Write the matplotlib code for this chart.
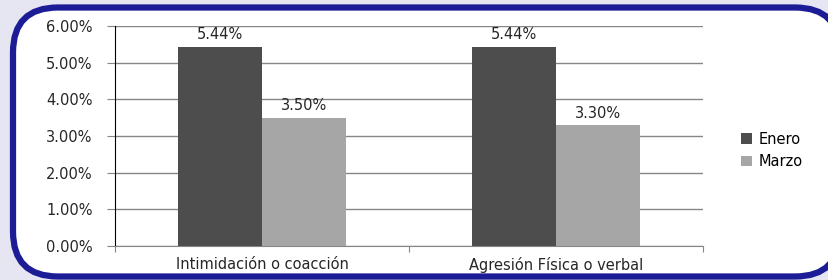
import matplotlib.pyplot as plt
import numpy as np
from matplotlib.patches import FancyBboxPatch
from matplotlib.ticker import FuncFormatter

plt.rcParams['font.family'] = 'DejaVu Sans'

categorias = ['Intimidación o coacción', 'Agresión Física o verbal']
enero = [5.44, 5.44]
marzo = [3.50, 3.30]
series = ['Enero', 'Marzo']
colores = ['#4d4d4d', '#a6a6a6']

fig = plt.figure(figsize=(8.29, 2.80), dpi=100)
fig.patch.set_facecolor('#e6e6f2')

# marco redondeado azul (en pulgadas)
marco = FancyBboxPatch((0.13, 0.035), 8.27, 2.69,
                       boxstyle='round,pad=0,rounding_size=0.45',
                       transform=fig.dpi_scale_trans, facecolor='white',
                       edgecolor='#1c1c96', linewidth=4.5, zorder=-1)
fig.patches.append(marco)

ax = fig.add_axes([115 / 829, 34 / 280, 588 / 829, 220 / 280])
ax.set_facecolor('none')

x = np.arange(len(categorias))
ancho = 0.286
b1 = ax.bar(x - ancho / 2, enero, ancho, color=colores[0], label=series[0], zorder=3)
b2 = ax.bar(x + ancho / 2, marzo, ancho, color=colores[1], label=series[1], zorder=3)

for barras, vals in [(b1, enero), (b2, marzo)]:
    for b, v in zip(barras, vals):
        ax.text(b.get_x() + b.get_width() / 2, v + 0.12, f'{v:.2f}%',
                ha='center', va='bottom', fontsize=10.5, color='#262626')

ax.set_xlim(-0.5, 1.5)
ax.set_ylim(0, 6)
ax.set_yticks(np.arange(0, 6.01, 1))
ax.yaxis.set_major_formatter(FuncFormatter(lambda v, p: f'{v:.2f}%'))
ax.set_xticks([-0.5, 0.5, 1.5], minor=False)
ax.set_xticklabels(['', '', ''])
ax.set_xticks(x, minor=True)
ax.set_xticklabels(categorias, minor=True, fontsize=10.5, color='#262626')
ax.tick_params(axis='x', which='minor', length=0, pad=8)
ax.tick_params(axis='x', which='major', length=4, color='#868686')
ax.tick_params(axis='y', length=6, color='#868686', labelsize=10.5,
               labelcolor='#262626', pad=10)

ax.grid(axis='y', color='#868686', linewidth=1, zorder=0)
for s in ['top', 'right']:
    ax.spines[s].set_visible(False)
ax.spines['left'].set_color('black')
ax.spines['bottom'].set_color('#868686')

ax.legend(loc='center left', bbox_to_anchor=(1.043, 0.435), frameon=False,
          fontsize=10.5, handlelength=0.75, handleheight=0.75, labelspacing=0.5,
          handletextpad=0.4)

fig.savefig('out.png', dpi=100, facecolor=fig.get_facecolor())
